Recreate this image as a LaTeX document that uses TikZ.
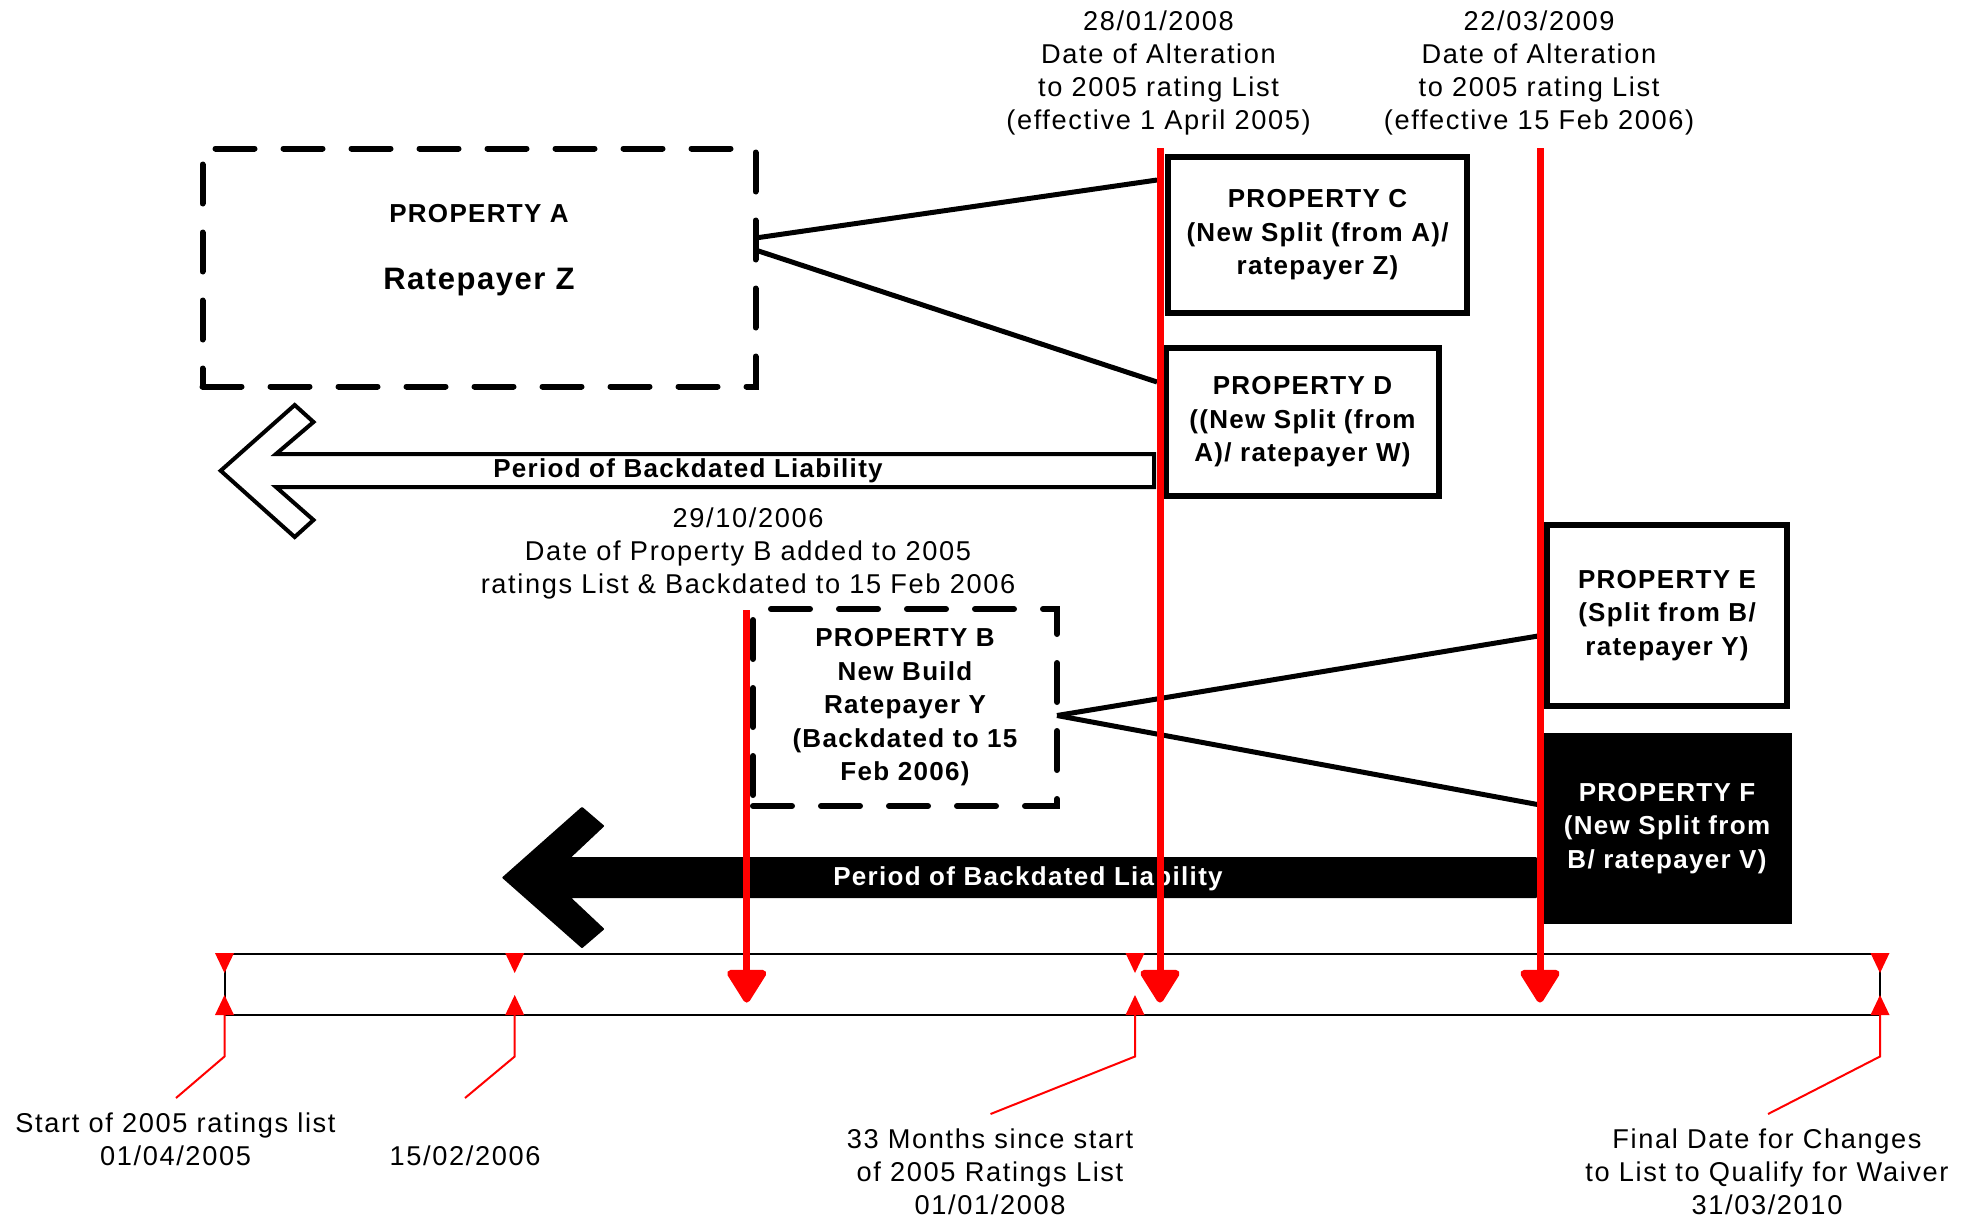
\documentclass[tikz,border=0pt]{standalone}
\usepackage{fontspec}
\setmainfont{Liberation Sans}[LetterSpace=6]
\newfontfamily\bfam{Liberation Sans}[LetterSpace=5]
\usetikzlibrary{arrows.meta}
\begin{document}
\begin{tikzpicture}[x=0.5pt,y=-0.5pt,
  reg/.style={font=\fontsize{13.6}{16.5}\selectfont, align=center, inner sep=0pt},
  bld/.style={font=\bfam\bfseries\fontsize{13}{16.75}\selectfont, align=center, inner sep=0pt},
  box/.style={draw, line width=3pt, bld},
  dbox/.style={box, dash pattern=on 19.5pt off 14.5pt, line cap=round},
  conn/.style={line width=2.5pt},
  redline/.style={red, line width=3.5pt, -{Triangle[width=21.5pt,length=18pt,round]}},
  leader/.style={red, line width=1pt},
  tick/.style={fill=red},
]
\useasboundingbox (0,0) rectangle (1966,1223);

% boxes
\node[dbox, minimum width=276.5pt, minimum height=119pt] (A) at (479,267.5) {};
\node[bld] (Atxt1) at (479,214) {PROPERTY A};
\node[bld, font=\bfam\bfseries\fontsize{15.5}{18}\selectfont] (Atxt2) at (479,282) {Ratepayer Z};
\node[box, minimum width=149.5pt, minimum height=77.75pt] (C) at (1317.5,234.75)
  {PROPERTY C\\(New Split (from A)/\\ratepayer Z)};
\node[box, minimum width=136.5pt, minimum height=74pt] (D) at (1302.5,422)
  {PROPERTY D\\((New Split (from\\A)/ ratepayer W)};
\node[dbox, minimum width=152pt, minimum height=98.5pt] (B) at (905,707.5)
  {PROPERTY B\\New Build\\Ratepayer Y\\(Backdated to 15\\Feb 2006)};
\node[box, minimum width=120pt, minimum height=90.7pt] (E) at (1667,615.3)
  {PROPERTY E\\(Split from B/\\ratepayer Y)};
\node[box, fill=black, text=white, minimum width=122pt, minimum height=92.3pt] (F) at (1667,828.3)
  {PROPERTY F\\(New Split from\\B/ ratepayer V)};

% connectors
\coordinate (a1) at (755.5,238);
\coordinate (a2) at (755.5,250);
\coordinate (c1) at (1157,180);
\coordinate (d1) at (1157,382);
\coordinate (b1) at (1057,715.5);
\coordinate (e1) at (1538,636);
\coordinate (f1) at (1538,804.6);
\draw[conn] (a1) -- (c1);
\draw[conn] (a2) -- (d1);
\draw[conn] (b1) -- (e1);
\draw[conn] (b1) -- (f1);

% white arrow
\draw[line width=2pt, fill=white, line join=miter]
  (220.7,470.7) -- (294.7,405) -- (313.5,422) -- (276,454) -- (1154,454)
  -- (1154,487) -- (276,487) -- (313.5,520) -- (294.7,537) -- cycle;
\node[bld] (P1) at (688,471) {Period of Backdated Liability};

% black arrow
\filldraw[line width=1pt, line join=round]
  (503.4,877.6) -- (582,808) -- (603,826) -- (569,858) -- (1536,858)
  -- (1536,897) -- (569,897) -- (603,929) -- (582,947) -- cycle;
\node[bld, text=white] (P2) at (1028,879) {Period of Backdated Liability};

% timeline
\draw[line width=1pt] (224.5,953.5) rectangle (1880,1014.5);
\foreach \x in {224.5,514.7,1135,1880}{
  \fill[tick] (\x-9.5,953) -- (\x+9.5,953) -- (\x,973) -- cycle;
  \fill[tick] (\x-9.5,1015) -- (\x+9.5,1015) -- (\x,995) -- cycle;
}
\draw[leader] (224.5,1015) -- (224.5,1056.5) -- (176,1098);
\draw[leader] (514.7,1015) -- (514.7,1056.5) -- (465,1098);
\draw[leader] (1135,1015) -- (1135,1056.5) -- (990.5,1114);
\draw[leader] (1880,1015) -- (1880,1056.5) -- (1768,1114);

% labels
\node[reg] (T1) at (1158.5,73) {28/01/2008\\Date of Alteration\\to 2005 rating List\\(effective 1 April 2005)};
\node[reg] (T2) at (1539,73) {22/03/2009\\Date of Alteration\\to 2005 rating List\\(effective 15 Feb 2006)};
\node[reg] (T3) at (748,553) {29/10/2006\\Date of Property B added to 2005\\ratings List \& Backdated to 15 Feb 2006};
\node[reg] (L1) at (175.5,1139) {Start of 2005 ratings list\\01/04/2005};
\node[reg] (L2) at (465,1156) {15/02/2006};
\node[reg] (L3) at (990,1172) {33 Months since start\\of 2005 Ratings List\\01/01/2008};
\node[reg] (L4) at (1767,1172) {Final Date for Changes\\to List to Qualify for Waiver\\31/03/2010};

% red date lines
\coordinate (r1t) at (1160,148);  \coordinate (r1b) at (1160,1002.6);
\coordinate (r2t) at (1540,148);  \coordinate (r2b) at (1540,1002.6);
\coordinate (r3t) at (746.7,610); \coordinate (r3b) at (746.7,1002.6);
\draw[redline] (r1t) -- (r1b);
\draw[redline] (r2t) -- (r2b);
\draw[redline] (r3t) -- (r3b);
\end{tikzpicture}
\end{document}
